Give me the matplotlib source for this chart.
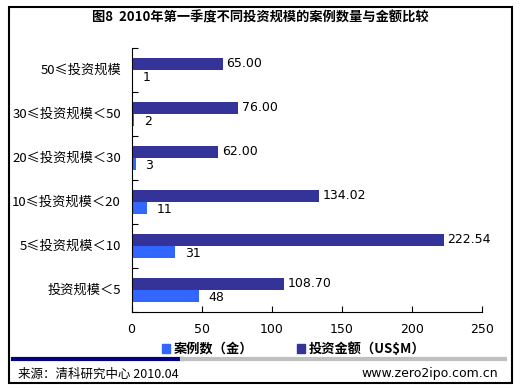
import matplotlib
matplotlib.use("Agg")
import matplotlib.pyplot as plt
import numpy as np
from matplotlib.patches import Rectangle
from matplotlib.lines import Line2D

plt.rcParams['font.family'] = ['Noto Sans CJK SC', 'DejaVu Sans']

# data, top to bottom as shown
categories = ['50≤投资规模', '30≤投资规模＜50', '20≤投资规模＜30',
              '10≤投资规模＜20', '5≤投资规模＜10', '投资规模＜5']
amounts = [65.00, 76.00, 62.00, 134.02, 222.54, 108.70]
counts = [1, 2, 3, 11, 31, 48]
xticks = [0, 50, 100, 150, 200, 250]
legend_labels = ['案例数（金）', '投资金额（US$M）']

navy = '#333399'
blue = '#3366FF'

fig = plt.figure(figsize=(5.2, 3.89), dpi=100)
ax = fig.add_axes([131.5 / 520, 1 - 312 / 389, (482 - 131.5) / 520, (312 - 48) / 389])

n = len(categories)
ypos = np.arange(n)[::-1] + 0.5
h = 0.28
ax.barh(ypos + h / 2, amounts, height=h, color=navy)
ax.barh(ypos - h / 2, counts, height=h, color=blue)

for y, a in zip(ypos, amounts):
    ax.text(a + 2.5, y + h / 2, '%.2f' % a, va='center', ha='left', fontsize=9,
            family='DejaVu Sans')
for y, c in zip(ypos, counts):
    ax.text(c + 7, y - h / 2 - 0.03, str(c), va='center', ha='left', fontsize=9,
            family='DejaVu Sans')

ax.set_xlim(0, 250)
ax.set_ylim(0, n)
ax.set_xticks(xticks)
ax.set_xticklabels([str(t) for t in xticks], family='DejaVu Sans', fontsize=9)
ax.tick_params(axis='x', direction='in', length=4, pad=8)
ax.set_yticks(np.arange(n + 1))
ax.set_yticklabels([])
ax.tick_params(axis='y', direction='in', length=4)
for y, c in zip(ypos, categories):
    ax.text(-0.03, y, c, transform=ax.get_yaxis_transform(), ha='right', va='center',
            fontsize=9.5)
for s in ['top', 'right']:
    ax.spines[s].set_visible(False)

# title
fig.text(0.5, 1 - 17 / 389, '图8  2010年第一季度不同投资规模的案例数量与金额比较',
         ha='center', va='center', fontsize=9.5, fontweight='bold')

# legend
handles = [Rectangle((0, 0), 1, 1, color=blue), Rectangle((0, 0), 1, 1, color=navy)]
fig.legend(handles, legend_labels, loc='center',
           bbox_to_anchor=(294 / 520, 1 - 349 / 389), ncol=2, frameon=False,
           prop={'weight': 'bold', 'size': 9.5}, handlelength=0.6, handleheight=0.6,
           handletextpad=0.3, columnspacing=3.3, borderpad=0, borderaxespad=0)

# separator line
fig.add_artist(Line2D([13 / 520, 182 / 520], [1 - 359 / 389] * 2, color='#000080', lw=3))
fig.add_artist(Line2D([182 / 520, 505 / 520], [1 - 359 / 389] * 2, color='#C0C0C0', lw=3))

fig.text(18 / 520, 1 - 374 / 389, '来源：清科研究中心 2010.04', ha='left', va='center', fontsize=9)
fig.text(498 / 520, 1 - 374 / 389, 'www.zero2ipo.com.cn', ha='right', va='center', fontsize=9,
         family='DejaVu Sans')

# outer border
fig.add_artist(Rectangle((9 / 520, 1 - 383 / 389), (512 - 9) / 520, (383 - 7) / 389,
                         fill=False, edgecolor='black', lw=1.5, transform=fig.transFigure))

fig.savefig('out.png', dpi=100)
